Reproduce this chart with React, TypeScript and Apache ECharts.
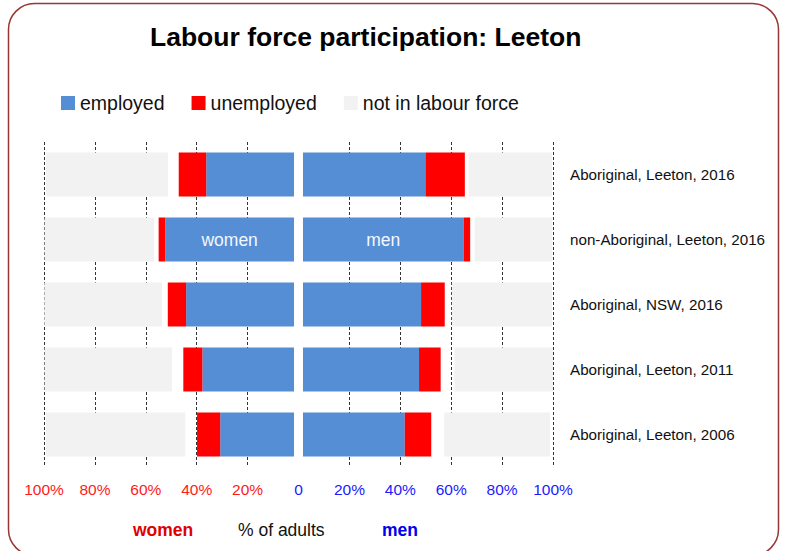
import React, { useEffect, useRef } from "react";
import * as echarts from "echarts";

const categories = [
  "Aboriginal, Leeton, 2016",
  "non-Aboriginal, Leeton, 2016",
  "Aboriginal, NSW, 2016",
  "Aboriginal, Leeton, 2011",
  "Aboriginal, Leeton, 2006",
];

// percentages of adults
const womenEmployed = [34.5, 50.6, 42.4, 36.0, 29.0];
const womenUnemployed = [10.8, 2.6, 7.2, 7.5, 9.1];
const womenNotStated = [4.2, 1.8, 2.3, 4.5, 4.6];
const womenNotInLF = [48.0, 43.0, 46.2, 50.0, 54.8];

const menEmployed = [48.1, 63.1, 46.4, 45.6, 40.0];
const menUnemployed = [15.5, 2.6, 9.3, 8.5, 10.4];
const menNotStated = [1.5, 1.7, 2.8, 5.4, 5.1];
const menNotInLF = [32.8, 30.6, 39.4, 39.2, 41.6];

const centreGap = 1.76;
const tickValues = [-100, -80, -60, -40, -20, 0, 20, 40, 60, 80, 100];

const FONT = "'Liberation Sans', Arial, Helvetica, sans-serif";
const NARROW = "'Liberation Sans Narrow', 'Liberation Sans', Arial, sans-serif";

const BLUE = "#558ed5";
const RED = "#ff0000";
const GREY = "#f2f2f2";

export default function App() {
  const ref = useRef<HTMLDivElement>(null);

  useEffect(() => {
    if (!ref.current) return;
    const chart = echarts.init(ref.current, undefined, { renderer: "svg" });

    const neg = (arr: number[]) => arr.map((v) => -v);
    const barBase = {
      type: "bar" as const,
      stack: "all",
      barWidth: 44,
    };

    const splitColors = tickValues.map((v) => (v === 0 ? "rgba(0,0,0,0)" : "#333333"));

    const option: any = {
      animation: false,
      backgroundColor: "#ffffff",
      title: {
        text: "Labour force participation: Leeton",
        left: 145,
        top: 18,
        textStyle: { fontFamily: FONT, fontSize: 26.5, fontWeight: "bold", color: "#000" },
      },
      legend: {
        data: ["employed", "unemployed", "not in labour force"],
        left: 56,
        top: 88,
        icon: "rect",
        itemWidth: 14,
        itemHeight: 14,
        itemGap: 27,
        textStyle: { fontFamily: FONT, fontSize: 19.5, color: "#111" },
      },
      grid: { left: 44, right: 233, top: 142, height: 325, containLabel: false },
      xAxis: {
        type: "value",
        min: -100,
        max: 100,
        interval: 20,
        axisLine: { show: false },
        axisTick: { show: false },
        splitLine: {
          show: true,
          lineStyle: { color: splitColors, type: [3, 2], width: 1 },
        },
        axisLabel: {
          margin: 14,
          fontFamily: NARROW,
          fontSize: 15.5,
          formatter: (v: number) => (v === 0 ? "0" : Math.abs(v) + "%"),
          color: (v: any) => (Number(v) < 0 ? "#ff1a1a" : "#1a1aff"),
        },
      },
      yAxis: {
        type: "category",
        data: categories,
        inverse: true,
        position: "right",
        axisLine: { show: false },
        axisTick: { show: false },
        splitLine: { show: false },
        axisLabel: {
          margin: 17,
          fontFamily: FONT,
          fontSize: 15.2,
          color: "#111",
          align: "left",
        },
      },
      series: [
        {
          ...barBase,
          name: "gapW",
          data: categories.map(() => -centreGap),
          itemStyle: { color: "rgba(0,0,0,0)" },
          silent: true,
        },
        {
          ...barBase,
          name: "employed",
          data: womenEmployed.map((v, i) => ({
            value: -v,
            label:
              i === 1
                ? {
                    show: true,
                    position: "inside",
                    formatter: "women",
                    color: "#f4f7ff",
                    fontFamily: FONT,
                    fontSize: 17.5,
                  }
                : { show: false },
          })),
          itemStyle: { color: BLUE },
        },
        {
          ...barBase,
          name: "unemployed",
          data: neg(womenUnemployed),
          itemStyle: { color: RED },
        },
        {
          ...barBase,
          name: "not stated",
          data: neg(womenNotStated),
          itemStyle: { color: "rgba(0,0,0,0)" },
          silent: true,
        },
        {
          ...barBase,
          name: "not in labour force",
          data: neg(womenNotInLF),
          itemStyle: { color: GREY },
        },
        {
          ...barBase,
          name: "gapM",
          data: categories.map(() => centreGap),
          itemStyle: { color: "rgba(0,0,0,0)" },
          silent: true,
        },
        {
          ...barBase,
          name: "employed",
          data: menEmployed.map((v, i) => ({
            value: v,
            label:
              i === 1
                ? {
                    show: true,
                    position: "inside",
                    formatter: "men",
                    color: "#f4f7ff",
                    fontFamily: FONT,
                    fontSize: 17.5,
                  }
                : { show: false },
          })),
          itemStyle: { color: BLUE },
        },
        {
          ...barBase,
          name: "unemployed",
          data: menUnemployed,
          itemStyle: { color: RED },
        },
        {
          ...barBase,
          name: "not stated",
          data: menNotStated,
          itemStyle: { color: "rgba(0,0,0,0)" },
          silent: true,
        },
        {
          ...barBase,
          name: "not in labour force",
          data: menNotInLF,
          itemStyle: { color: GREY },
        },
      ],
      graphic: [
        {
          type: "rect",
          shape: { x: 8.5, y: 3.5, width: 770, height: 552, r: 26 },
          style: { fill: "none", stroke: "#953735", lineWidth: 1.5 },
          silent: true,
          z: 100,
        },
        {
          type: "text",
          left: 133,
          top: 521,
          style: { text: "women", fill: "#e00000", font: `bold 17.5px ${FONT}` },
        },
        {
          type: "text",
          left: 238,
          top: 521,
          style: { text: "% of adults", fill: "#111", font: `17.5px ${FONT}` },
        },
        {
          type: "text",
          left: 382,
          top: 521,
          style: { text: "men", fill: "#0000ee", font: `bold 17.5px ${FONT}` },
        },
      ],
    };

    chart.setOption(option);
    return () => chart.dispose();
  }, []);

  return (
    <div
      ref={ref}
      style={{ position: "fixed", left: 0, top: 0, width: 786, height: 551, background: "#fff" }}
    />
  );
}
